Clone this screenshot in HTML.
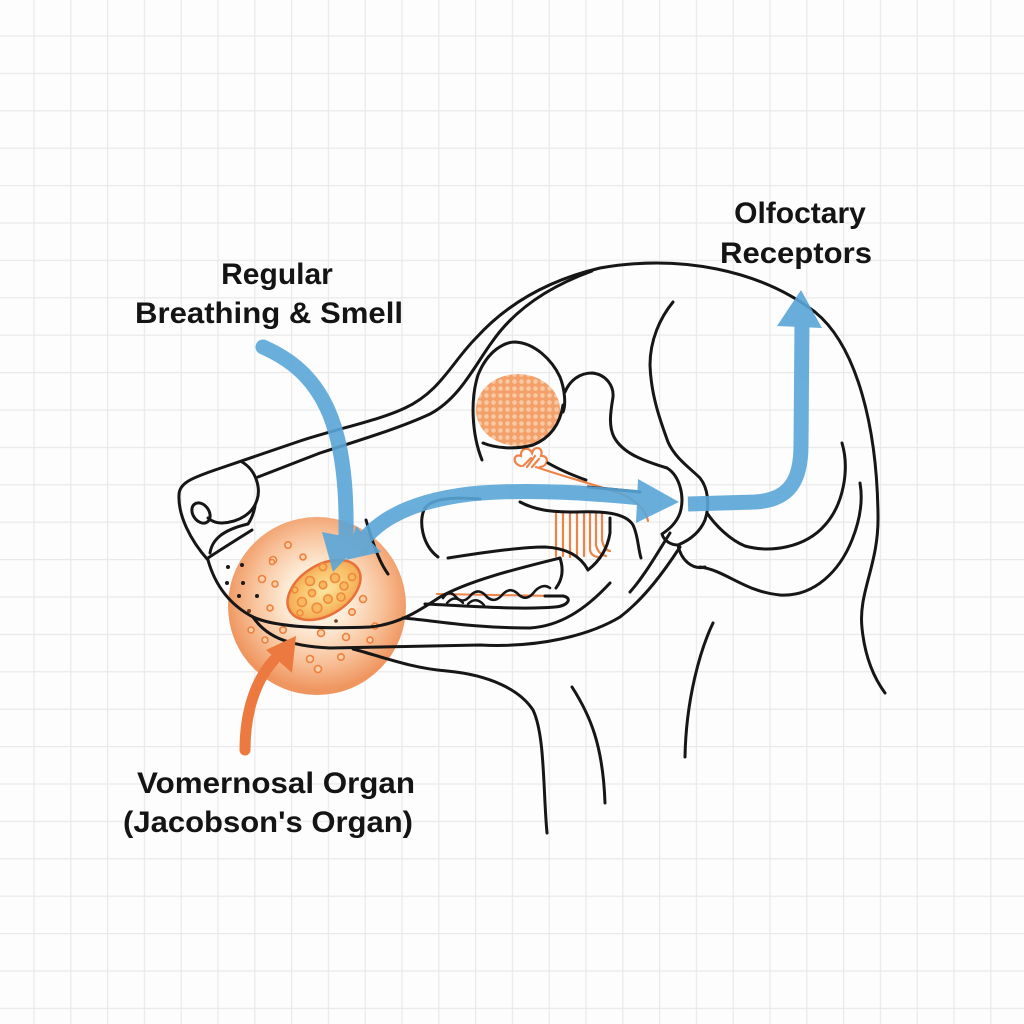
<!DOCTYPE html>
<html>
<head>
<meta charset="utf-8">
<style>
  html,body{margin:0;padding:0;background:#fdfdfd;}
  svg{display:block;}
  .t{font-family:"Liberation Sans",Arial,sans-serif;font-weight:bold;fill:#141414;}
</style>
</head>
<body>
<svg width="1024" height="1024" viewBox="0 0 1024 1024" xmlns="http://www.w3.org/2000/svg">
  <defs>
    <pattern id="grid" x="33.4" y="35.4" width="36.8" height="37.4" patternUnits="userSpaceOnUse">
      <rect x="0" y="0" width="1.2" height="37.4" fill="#e9e9e9"/>
      <rect x="0" y="0" width="36.8" height="1.2" fill="#e9e9e9"/>
    </pattern>
    <radialGradient id="glow" cx="318" cy="598" r="92" gradientUnits="userSpaceOnUse">
      <stop offset="0" stop-color="#fffdf6"/>
      <stop offset="0.35" stop-color="#fdebd6"/>
      <stop offset="0.7" stop-color="#f8c29a"/>
      <stop offset="1" stop-color="#ef9660"/>
    </radialGradient>
    <radialGradient id="oval" cx="0.5" cy="0.5" r="0.6">
      <stop offset="0" stop-color="#fde7a0"/>
      <stop offset="0.6" stop-color="#f8c068"/>
      <stop offset="1" stop-color="#f29848"/>
    </radialGradient>
    <pattern id="cells" width="7" height="7" patternUnits="userSpaceOnUse">
      <rect width="7" height="7" fill="#f4a06a"/>
      <circle cx="3.5" cy="3.5" r="2.3" fill="#f9c9a4"/>
    </pattern>
  </defs>

  <rect width="1024" height="1024" fill="#fdfdfd"/>
  <rect width="1024" height="1024" fill="url(#grid)"/>

  <!-- Vomeronasal glow -->
  <circle cx="317" cy="606" r="89" fill="url(#glow)"/>

  <!-- Eye orange -->
  <ellipse cx="518" cy="410" rx="42" ry="36" fill="url(#cells)"/>

  <!-- Oval organ -->
  <g transform="rotate(-32 324 590)">
    <ellipse cx="324" cy="590" rx="40" ry="25" fill="url(#oval)" stroke="#e8703a" stroke-width="2.5"/>
  </g>
  <g fill="#f8b860" stroke="#ef8a3c" stroke-width="1.6">
    <circle cx="310" cy="581" r="4.5"/><circle cx="323" cy="585" r="3.8"/>
    <circle cx="335" cy="578" r="4.5"/><circle cx="344" cy="586" r="4"/>
    <circle cx="352" cy="577" r="3.6"/><circle cx="323" cy="567" r="3.6"/>
    <circle cx="302" cy="602" r="4.5"/><circle cx="317" cy="608" r="4.8"/>
    <circle cx="328" cy="599" r="4.2"/><circle cx="341" cy="597" r="4"/>
    <circle cx="312" cy="593" r="3.6"/><circle cx="300" cy="613" r="3"/>
    <circle cx="295" cy="590" r="2.8"/>
  </g>

  <!-- scattered small rings -->
  <g fill="#fbd0a8" stroke="#ee7f3e" stroke-width="1.6">
    <circle cx="288" cy="545" r="3.2"/><circle cx="273" cy="560" r="3.5"/>
    <circle cx="303" cy="557" r="3"/><circle cx="262" cy="579" r="3.5"/>
    <circle cx="275" cy="584" r="3"/><circle cx="270" cy="608" r="3"/>
    <circle cx="251" cy="630" r="3"/><circle cx="265" cy="640" r="3"/>
    <circle cx="283" cy="630" r="3.2"/><circle cx="321" cy="633" r="3.5"/>
    <circle cx="346" cy="637" r="3.5"/><circle cx="370" cy="640" r="3"/>
    <circle cx="375" cy="626" r="3"/><circle cx="363" cy="599" r="3.5"/>
    <circle cx="352" cy="612" r="3.2"/><circle cx="310" cy="659" r="3.5"/>
    <circle cx="341" cy="657" r="3.2"/><circle cx="318" cy="669" r="3.5"/>
    <circle cx="364" cy="552" r="2.5"/><circle cx="272" cy="562" r="2.5"/>
  </g>
  <g fill="#1a1a1a">
    <circle cx="228" cy="567" r="2"/><circle cx="242" cy="565" r="2"/>
    <circle cx="227" cy="583" r="2"/><circle cx="243" cy="583" r="2"/>
    <circle cx="239" cy="596" r="2"/><circle cx="257" cy="596" r="2"/>
    <circle cx="249" cy="611" r="2" fill="#7a3a20"/><circle cx="336" cy="621" r="1.8" fill="#6a3a22"/>
  </g>

  <!-- orange olfactory structures -->
  <g fill="none" stroke="#ee8348" stroke-width="2.2" stroke-linecap="round">
    <path d="M521,466 C512,464 513,453 521,456 C520,448 529,446 532,453 C534,445 544,447 541,456 C549,455 549,466 540,467"/>
    <path d="M523,466 L531,458 M527,467 L535,456 M532,467 L539,459"/>
    <path d="M536,467 C565,477 600,486 624,495 C640,503 646,512 648,521"/>
    <path d="M556,513 L556,556 M563,513 L563,556 M570,513 L570,557 M577,513 L577,557 M584,513 L584,556 M590,513 L590,550 Q591,556 598,557 M596,513 L596,545 Q598,554 606,556 M602,513 L602,540 Q604,550 610,551"/>
    <path d="M437,594 L557,596" stroke-width="2"/>
  </g>

  <!-- black line art -->
  <g fill="none" stroke="#161616" stroke-width="3" stroke-linecap="round" stroke-linejoin="round">
    <path d="M179,495 C179,483 192,478 215,470 L300,441 C340,428 380,420 405,408 C440,392 452,362 476,338 C505,306 545,281 600,268 C680,254 760,270 815,312 C858,347 877,430 878,515 C879,565 858,592 862,628 C865,658 874,678 885,693"/>
    <path d="M179,495 C178,515 190,540 208,560 C215,585 230,605 253,617 C275,627 320,629 370,627 C400,624 420,610 440,597 C470,580 520,568 560,558"/>
    <path d="M560,558 C564,570 562,580 556,588"/>
    <path d="M258,477 L320,453 C360,440 400,428 430,414 C460,398 475,365 492,342 C512,313 545,288 592,271"/>
    <path d="M242,462 C256,470 261,488 257,500 C253,513 240,522 222,523 C215,523 210,520 208,518"/>
    <ellipse cx="201" cy="513" rx="8" ry="11" transform="rotate(-35 201 513)"/>
    <path d="M210,553 C212,540 222,530 248,524 C252,518 254,512 255,506"/>
    <path d="M208,558 C220,550 236,540 252,530"/>
    <path d="M480,499 C455,497 432,498 425,508 C418,520 422,545 438,557"/>
    <path d="M448,558 C480,553 520,547 545,547 C565,548 580,555 588,570 C597,563 607,552 610,533 L610,518"/>
    <path d="M520,502 C535,510 550,512 575,512 C600,511 625,512 633,525 C638,535 638,548 641,558"/>
    <path d="M366,520 C372,540 378,560 388,574"/>
    <path d="M482,460 C472,435 470,400 478,375 C488,350 505,342 515,342 C535,343 552,360 560,377 C565,390 566,405 563,412"/>
    <path d="M483,443 C495,448 515,450 533,445 C550,438 560,425 563,405"/>
    <path d="M565,392 C570,380 580,373 592,373 C605,374 614,385 613,397 C611,410 608,425 614,437 C622,452 640,460 667,468"/>
    <path d="M548,463 C560,470 572,475 586,480"/>
    <path d="M588,487 L640,492"/>
    <path d="M673,302 C660,318 650,340 650,365 C651,395 660,420 668,442 C675,458 690,468 700,478 C708,488 710,505 705,520 C700,532 690,540 678,545"/>
    <path d="M667,468 C680,476 685,497 680,513 C676,524 668,530 662,534 C664,541 671,545 678,545"/>
    <path d="M678,545 C681,560 692,570 705,567"/>
    <path d="M700,567 C725,570 745,592 780,595 C815,597 840,570 852,540 C860,520 863,500 860,483"/>
    <path d="M707,513 C715,525 730,540 745,546 C770,553 805,548 825,525 C843,505 850,470 842,443"/>
    <path d="M253,617 C265,635 285,646 330,648 L480,645 C540,648 590,635 620,617 C645,598 665,570 680,547"/>
    <path d="M403,618 C430,620 470,628 530,628 C560,626 585,610 610,583"/>
    <path d="M425,604 C470,606 520,610 555,607 C568,606 573,598 563,596 L545,596"/>
    <path d="M443,598 Q449,589 456,597 Q463,605 471,595 Q479,587 487,597 Q495,604 503,594 Q511,586 519,595 Q527,602 535,591 Q543,583 550,588" stroke-width="2.6"/>
    <path d="M447,603 Q455,594 463,603 M468,604 Q476,596 484,605" stroke-width="2.4"/>
    <path d="M630,592 C645,575 658,552 670,533"/>
    <path d="M353,649 C380,656 410,668 447,671 C490,675 520,690 533,710 C545,735 543,790 547,833"/>
    <path d="M572,687 C590,715 603,745 605,803"/>
    <path d="M713,623 C700,650 686,700 685,757"/>
  </g>

  <!-- blue arrows -->
  <g opacity="0.9">
    <g fill="none" stroke="#5aa6d8" stroke-width="15" stroke-linecap="round">
      <path d="M263,347 C320,372 348,420 346,535"/>
      <path d="M367,536 C387,514 420,500 470,494 C530,488 600,494 642,498"/>
      <path d="M688,504 L755,502 C790,500 801,480 801,445 L802,322" stroke-linecap="butt"/>
    </g>
    <g fill="#5aa6d8">
      <polygon points="333,572 322,532 363,540"/>
      <polygon points="346,560 356,526 381,552"/>
      <polygon points="679,502 638,479 636,523"/>
      <polygon points="801,290 777,326 822,328"/>
    </g>
  </g>

  <!-- orange arrow -->
  <path d="M245,750 C245,715 254,682 274,660" fill="none" stroke="#ec7a40" stroke-width="11" stroke-linecap="round"/>
  <polygon points="296,636 266,650 292,673" fill="#ec7a40"/>

  <!-- labels -->
  <text class="t" x="277" y="284" font-size="30" text-anchor="middle">Regular</text>
  <text class="t" x="269" y="323" font-size="30" text-anchor="middle" textLength="268" lengthAdjust="spacingAndGlyphs">Breathing &amp; Smell</text>
  <text class="t" x="800" y="223" font-size="30" text-anchor="middle">Olfoctary</text>
  <text class="t" x="796" y="263" font-size="30" text-anchor="middle" textLength="152" lengthAdjust="spacingAndGlyphs">Receptors</text>
  <text class="t" x="276" y="793" font-size="30" text-anchor="middle" textLength="278" lengthAdjust="spacingAndGlyphs">Vomernosal Organ</text>
  <text class="t" x="268" y="832" font-size="30" text-anchor="middle" textLength="290" lengthAdjust="spacingAndGlyphs">(Jacobson's Organ)</text>
</svg>
</body>
</html>
